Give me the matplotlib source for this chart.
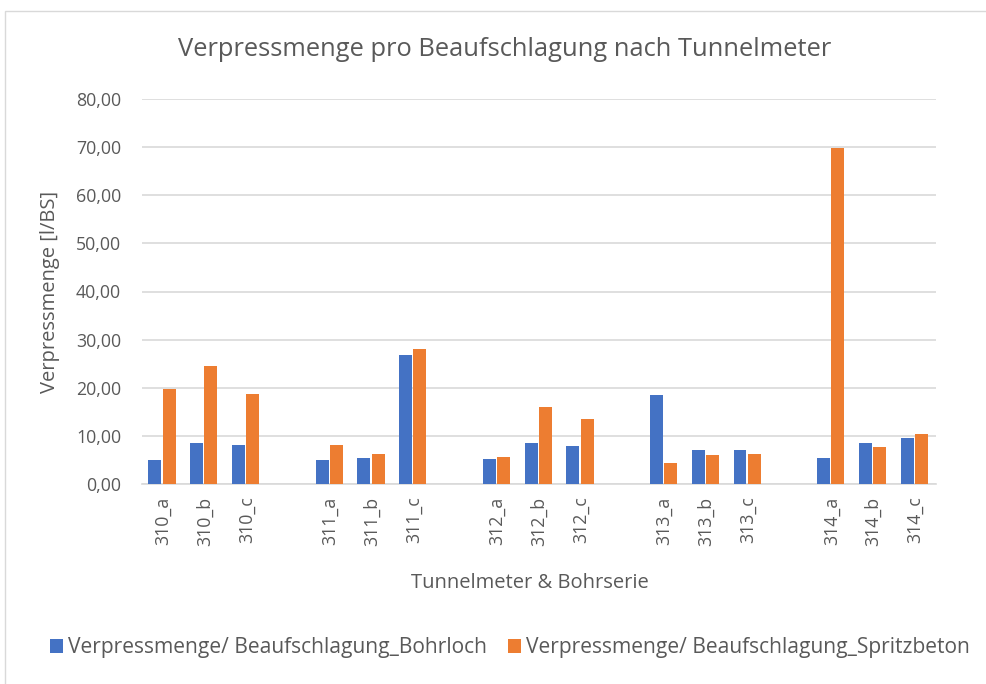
import numpy as np
import matplotlib.pyplot as plt
from matplotlib.patches import Rectangle

plt.rcParams['font.family'] = ['Open Sans', 'DejaVu Sans']

# Kategorien (leere Einträge = Lücke zwischen den Gruppen)
kategorien = ['310_a', '310_b', '310_c', '',
              '311_a', '311_b', '311_c', '',
              '312_a', '312_b', '312_c', '',
              '313_a', '313_b', '313_c', '',
              '314_a', '314_b', '314_c']

bohrloch = [5.0, 8.5, 8.1, np.nan,
            5.0, 5.4, 26.8, np.nan,
            5.2, 8.5, 7.8, np.nan,
            18.4, 7.0, 7.0, np.nan,
            5.5, 8.6, 9.5]

spritzbeton = [19.7, 24.5, 18.7, np.nan,
               8.1, 6.2, 28.0, np.nan,
               5.7, 15.9, 13.5, np.nan,
               4.3, 6.0, 6.2, np.nan,
               69.8, 7.6, 10.3]

blau = '#4472C4'
orange = '#ED7D31'
grau = '#595959'

fig = plt.figure(figsize=(9.87, 6.84), dpi=100)
ax = fig.add_axes([142/987, 1 - 484/684, (936-142)/987, (484-99)/684])

# Rahmen um das Diagramm
fig.patches.append(Rectangle((5/987, -0.1), 1.1, (684-11)/684 + 0.1,
                             transform=fig.transFigure, fill=False,
                             edgecolor='#D9D9D9', linewidth=1.0))

x = np.arange(len(kategorien))
b = 0.31
ax.bar(x - 0.19, bohrloch, width=b, color=blau, label='Verpressmenge/ Beaufschlagung_Bohrloch', zorder=3)
ax.bar(x + 0.15, spritzbeton, width=b, color=orange, label='Verpressmenge/ Beaufschlagung_Spritzbeton', zorder=3)

ax.set_xlim(-0.5, len(kategorien) - 0.5)
ax.set_ylim(0, 80)
ax.set_yticks(np.arange(0, 81, 10))
ax.set_yticklabels([f'{v:.2f}'.replace('.', ',') for v in np.arange(0, 81, 10)])
ax.set_xticks(x)
ax.set_xticklabels(kategorien, rotation=90)

ax.grid(axis='y', color='#D9D9D9', linewidth=1.2, zorder=0)
for s in ['top', 'right', 'left']:
    ax.spines[s].set_visible(False)
ax.spines['bottom'].set_color('#D9D9D9')
ax.spines['bottom'].set_linewidth(1.2)
ax.tick_params(length=0, colors=grau, labelsize=12.8)
ax.tick_params(axis='y', pad=15)
ax.tick_params(axis='x', pad=9)

ax.set_ylabel('Verpressmenge [l/BS]', fontsize=14.5, color=grau, labelpad=2)
ax.yaxis.set_label_coords(-(142 - 50) / 794, 0.5)
ax.set_xlabel('Tunnelmeter & Bohrserie', fontsize=14.5, color=grau)
ax.xaxis.set_label_coords((530 - 142) / 794, -(583 - 484) / 385)
ax.xaxis.label.set_va('center')
ax.yaxis.label.set_va('center')

fig.text(505/987, 1 - 50/684, 'Verpressmenge pro Beaufschlagung nach Tunnelmeter',
         ha='center', va='center', fontsize=18.4, color=grau)

fig.legend(loc='center', bbox_to_anchor=(510/987, 1 - 648/684), ncol=2, frameon=False,
           fontsize=15.1, labelcolor=grau, handlelength=0.6, handleheight=0.6,
           handletextpad=0.25, columnspacing=1.0)

fig.savefig('out.png', dpi=100)
